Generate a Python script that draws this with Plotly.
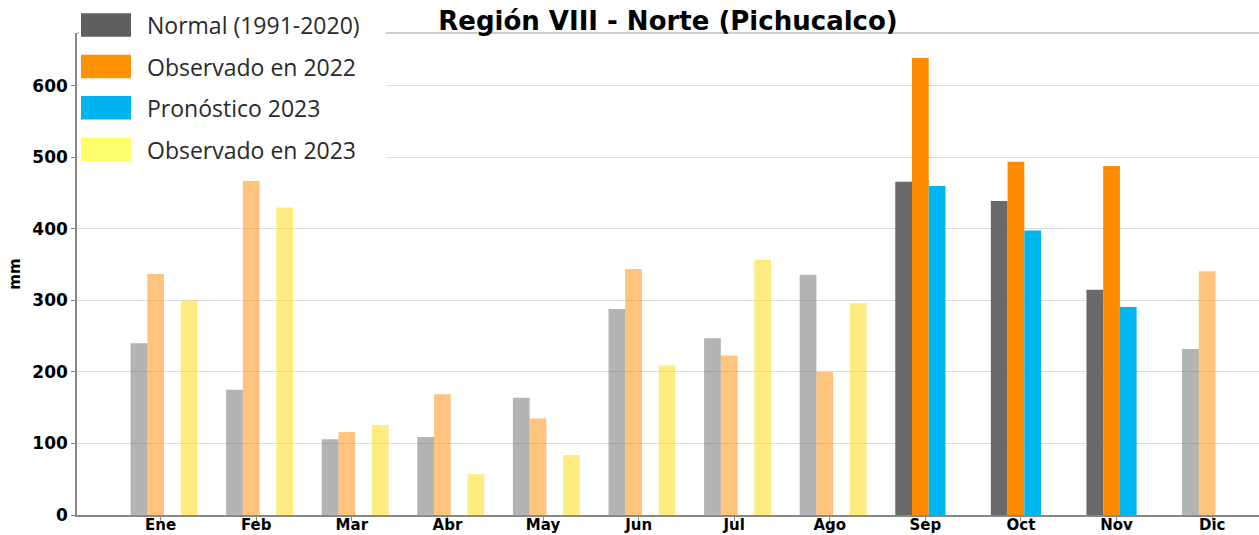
import plotly.graph_objects as go

months = ["Ene", "Feb", "Mar", "Abr", "May", "Jun", "Jul", "Ago", "Sep", "Oct", "Nov", "Dic"]
highlight_months = ["Sep", "Oct", "Nov"]

normal_1991_2020 = [240, 175, 106, 109, 164, 288, 247, 336, 466, 439, 315, 232]
observado_2022 = [337, 467, 116, 169, 135, 344, 223, 200, 639, 494, 488, 341]
pronostico_2023 = [None, None, None, None, None, None, None, None, 460, 398, 291, None]
observado_2023 = [300, 430, 126, 57, 84, 209, 357, 296, None, None, None, None]

series_names = ["Normal (1991-2020)", "Observado en 2022", "Pronóstico 2023", "Observado en 2023"]
series_values = [normal_1991_2020, observado_2022, pronostico_2023, observado_2023]
bar_rgb = [(105, 105, 105), (255, 140, 0), (0, 182, 240), (255, 215, 0)]
legend_colors = ["#5f5f5f", "#ff9200", "#00b4f0", "#ffff6a"]
offsets = [-0.315, -0.14, 0.035, 0.21]
bar_w = 0.175

W, H = 1259, 535
L, R, T, B = 77, 1259, 33, 515
PW, PH = R - L, B - T

def px2x(p):
    return (p - L) / PW

def px2y(p):
    return (B - p) / PH

xpos = list(range(len(months)))

fig = go.Figure()
for name, vals, rgb, off in zip(series_names, series_values, bar_rgb, offsets):
    cols = []
    for m in months:
        a = 1.0 if m in highlight_months else 0.5
        cols.append(f"rgba({rgb[0]},{rgb[1]},{rgb[2]},{a})")
    fig.add_trace(go.Bar(
        x=xpos, y=vals, name=name, width=bar_w, offset=off,
        marker=dict(color=cols, line=dict(width=0)),
        showlegend=False,
    ))

shapes = []
# top spine
shapes.append(dict(type="line", xref="paper", yref="paper", x0=0, x1=1, y0=1, y1=1,
                   line=dict(color="#bdbdbd", width=1.5), layer="above"))
# legend background
shapes.append(dict(type="rect", xref="paper", yref="paper",
                   x0=px2x(79), x1=px2x(386), y0=px2y(172), y1=px2y(0),
                   fillcolor="white", line=dict(width=0), layer="above"))
annotations = []
for i, (name, c) in enumerate(zip(series_names, legend_colors)):
    top = 13.3 + i * 41.4
    shapes.append(dict(type="rect", xref="paper", yref="paper",
                       x0=px2x(81), x1=px2x(131), y0=px2y(top + 23.5), y1=px2y(top),
                       fillcolor=c, line=dict(width=0), layer="above"))
    annotations.append(dict(xref="paper", yref="paper", x=px2x(145), y=px2y(top + 12),
                            text=name, showarrow=False, xanchor="left", yanchor="middle",
                            font=dict(family="Open Sans", size=23, color="#2a2a2a")))

fig.update_layout(
    width=W, height=H,
    margin=dict(l=L, r=W - R, t=T, b=H - B),
    paper_bgcolor="white", plot_bgcolor="white",
    barmode="overlay",
    title=dict(text="<b>Región VIII - Norte (Pichucalco)</b>", x=0.5, xref="paper",
               y=1 - 21 / H, yanchor="middle", xanchor="center",
               font=dict(family="DejaVu Sans", size=26, color="black")),
    xaxis=dict(range=[-0.875, 11.49], tickmode="array", tickvals=xpos, ticktext=months,
               showgrid=False, showline=True, linecolor="#888888", linewidth=1.5,
               ticks="outside", ticklen=4, tickcolor="#888888", automargin=False,
               ticklabelstandoff=-9,
               tickfont=dict(family="DejaVu Sans", size=15, color="black", weight="bold"),
               zeroline=False),
    yaxis=dict(range=[0, 674], tickvals=[0, 100, 200, 300, 400, 500, 600],
               showgrid=True, gridcolor="#dcdcdc", gridwidth=1,
               showline=True, linecolor="#888888", linewidth=1.5,
               ticks="outside", ticklen=4, tickcolor="#888888", automargin=False,
               tickfont=dict(family="DejaVu Sans", size=17, color="black", weight="bold"),
               title=dict(text="<b>mm</b>", standoff=8,
                          font=dict(family="DejaVu Sans", size=15, color="black")),
               zeroline=False),
    shapes=shapes,
    annotations=annotations,
)

fig.write_html("out.html", config={"displayModeBar": False},
               post_script="document.body.style.margin='0';document.body.style.overflow='hidden';")
